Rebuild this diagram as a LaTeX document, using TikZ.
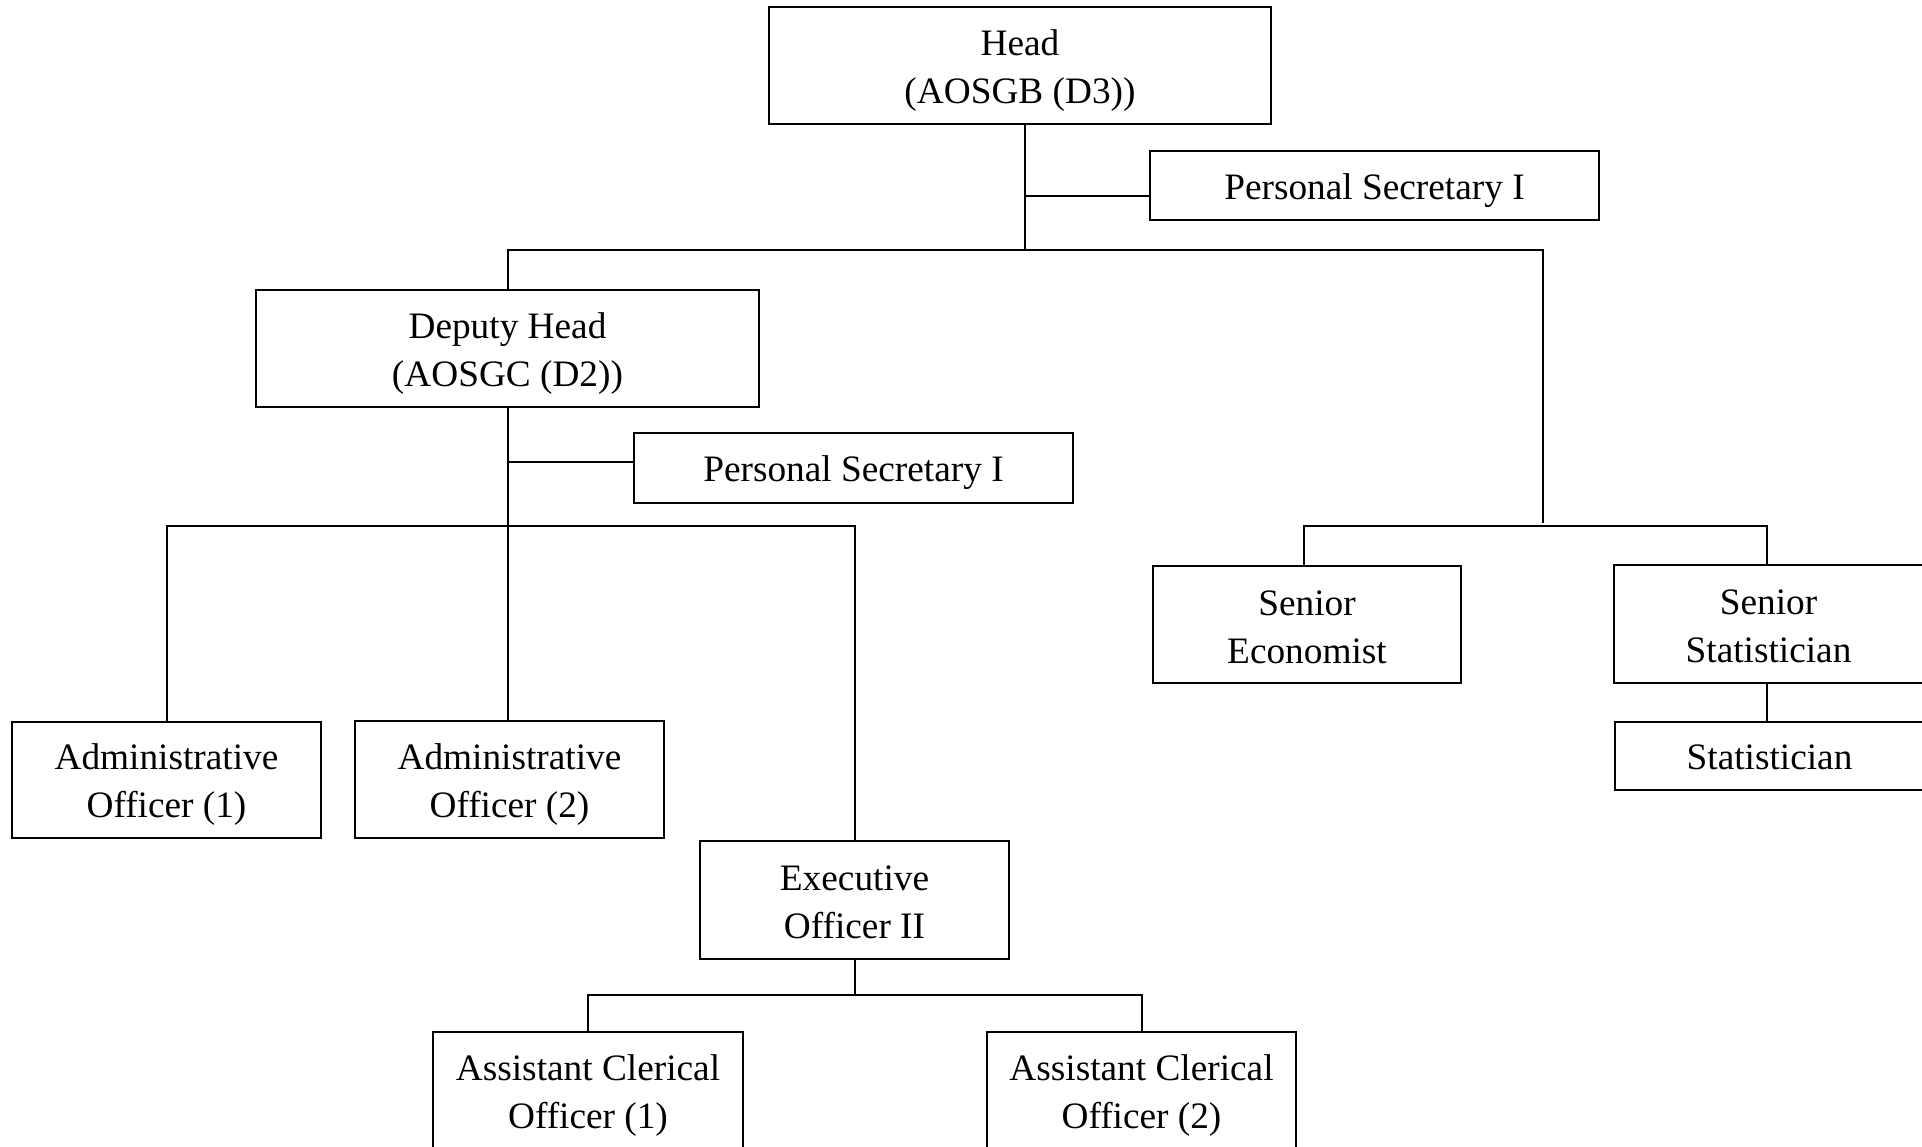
\documentclass[tikz,border=0pt]{standalone}
\usepackage{fontspec}
\setmainfont{Liberation Serif}
\begin{document}
\begin{tikzpicture}[x=1pt,y=-1pt,
  box/.style={draw=black, line width=2.2pt, rectangle, inner sep=0pt},
  txt/.style={align=center, inner sep=0pt, yshift=-5pt,
    font=\fontsize{37.3}{48}\selectfont, text=black},
  txtup/.style={txt, yshift=2.5pt},
  conn/.style={draw=black, line width=2pt}]
\useasboundingbox (0,0) rectangle (1922,1147);
% nodes
\node[box, minimum width=502pt, minimum height=117pt, label={[txt]center:Head\\(AOSGB (D3))}] (head) at (1020,65.5) {};
\node[box, minimum width=449pt, minimum height=69pt, label={[txt]center:Personal Secretary I}] (ps1) at (1374.5,185.5) {};
\node[box, minimum width=503pt, minimum height=117pt, label={[txt]center:Deputy Head\\(AOSGC (D2))}] (dep) at (507.5,348.5) {};
\node[box, minimum width=439pt, minimum height=70pt, label={[txt]center:Personal Secretary I}] (ps2) at (853.5,468) {};
\node[box, minimum width=309pt, minimum height=116pt, label={[txt]center:Administrative\\Officer (1)}] (adm1) at (166.5,780) {};
\node[box, minimum width=309pt, minimum height=117pt, label={[txt]center:Administrative\\Officer (2)}] (adm2) at (509.5,779.5) {};
\node[box, minimum width=309pt, minimum height=118pt, label={[txtup]center:Executive\\Officer II}] (exec) at (854.5,900) {};
\node[box, minimum width=310pt, minimum height=118pt, label={[txt]center:Assistant Clerical\\Officer (1)}] (aco1) at (588,1091) {};
\node[box, minimum width=309pt, minimum height=118pt, label={[txt]center:Assistant Clerical\\Officer (2)}] (aco2) at (1141.5,1091) {};
\node[box, minimum width=308pt, minimum height=117pt, label={[txtup]center:Senior\\Economist}] (se) at (1307,624.5) {};
\node[box, minimum width=309pt, minimum height=118pt, label={[txtup]center:Senior\\Statistician}] (ss) at (1768.5,624) {};
\node[box, minimum width=309pt, minimum height=68pt, label={[txt, yshift=3.5pt]center:Statistician}] (stat) at (1769.5,756) {};
% junction coordinates
\coordinate (j1) at (1025,250);
\coordinate (j2) at (1543,250);
\coordinate (j2b) at (1543,523);
\coordinate (b2) at (0,526);
\coordinate (b3) at (0,995);
\coordinate (b4) at (1304,526);
\coordinate (b5) at (1767,526);
% connectors
\draw[conn] (head.south -| j1) -- (j1);
\draw[conn] ([yshift=-10.5pt]ps1.west) -- ([yshift=-10.5pt]ps1.west -| j1);
\draw[conn] (dep.north) -- (dep.north |- j1) -- (j2) -- (j2b);
\draw[conn] (dep.south) -- (dep.south |- adm2.north);
\draw[conn] ([yshift=6pt]ps2.west) -- ([yshift=6pt]ps2.west -| dep.south);
\draw[conn] (adm1.north) -- (adm1.north |- b2) -- (exec.north |- b2) -- (exec.north);
\draw[conn] (exec.south) -- (exec.south |- b3);
\draw[conn] (aco1.north) -- (aco1.north |- b3) -- (aco2.north |- b3) -- (aco2.north);
\draw[conn] (se.north -| b4) -- (b4) -- (b5) -- (ss.north -| b5);
\draw[conn] (ss.south -| b5) -- (stat.north -| b5);
\end{tikzpicture}
\end{document}
